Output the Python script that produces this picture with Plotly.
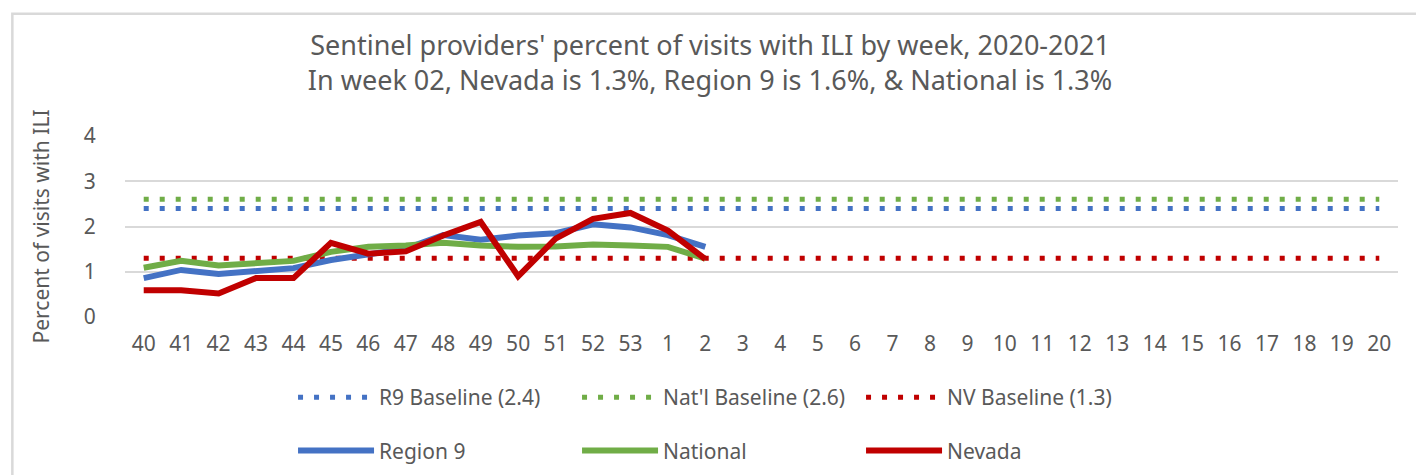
import plotly.graph_objects as go

weeks = [str(w) for w in list(range(40, 54)) + list(range(1, 21))]
data_weeks = weeks[:16]

r9_baseline = 2.4
natl_baseline = 2.6
nv_baseline = 1.3

region9 = [0.86, 1.04, 0.95, 1.02, 1.08, 1.26, 1.40, 1.51, 1.81, 1.71, 1.80, 1.85, 2.05, 1.98, 1.81, 1.55]
national = [1.09, 1.24, 1.14, 1.19, 1.24, 1.44, 1.55, 1.58, 1.64, 1.58, 1.55, 1.56, 1.60, 1.58, 1.55, 1.29]
nevada = [0.59, 0.59, 0.52, 0.86, 0.86, 1.64, 1.40, 1.45, 1.80, 2.10, 0.90, 1.73, 2.17, 2.30, 1.91, 1.28]

BLUE = "#4472C4"
GREEN = "#70AD47"
RED = "#C00000"
TXT = "#595959"
FONT = "Noto Sans"

fig = go.Figure()

dot = "5px,11px"
fig.add_trace(go.Scatter(x=weeks, y=[r9_baseline] * len(weeks), mode="lines",
                         name="R9 Baseline (2.4)", line=dict(color=BLUE, width=5, dash=dot),
                         legend="legend"))
fig.add_trace(go.Scatter(x=weeks, y=[natl_baseline] * len(weeks), mode="lines",
                         name="Nat'l Baseline (2.6)", line=dict(color=GREEN, width=5, dash=dot),
                         legend="legend"))
fig.add_trace(go.Scatter(x=weeks, y=[nv_baseline] * len(weeks), mode="lines",
                         name="NV Baseline (1.3)", line=dict(color=RED, width=5, dash=dot),
                         legend="legend"))
fig.add_trace(go.Scatter(x=data_weeks, y=region9, mode="lines", name="Region 9",
                         line=dict(color=BLUE, width=6), legend="legend2"))
fig.add_trace(go.Scatter(x=data_weeks, y=national, mode="lines", name="National",
                         line=dict(color=GREEN, width=6), legend="legend2"))
fig.add_trace(go.Scatter(x=data_weeks, y=nevada, mode="lines", name="Nevada",
                         line=dict(color=RED, width=6), legend="legend2"))

legend_common = dict(orientation="h", xanchor="left", yanchor="middle",
                     entrywidth=193, entrywidthmode="pixels", itemwidth=76,
                     font=dict(family=FONT, size=21, color=TXT),
                     bgcolor="rgba(0,0,0,0)", traceorder="normal")

fig.update_layout(
    width=1424, height=475,
    margin=dict(l=117, r=34, t=128, b=162),
    paper_bgcolor="white", plot_bgcolor="white",
    title=dict(text="Sentinel providers' percent of visits with ILI by week, 2020-2021<br>"
                    "In week 02, Nevada is 1.3%, Region 9 is 1.6%, & National is 1.3%",
               x=0.493, xanchor="center", y=0.902, yanchor="top",
               font=dict(family=FONT, size=27, color=TXT)),
    showlegend=True,
    legend=dict(x=0.132, y=-0.445, **legend_common),
    legend2=dict(x=0.132, y=-0.74, **legend_common),
    xaxis=dict(type="category", categoryorder="array", categoryarray=weeks,
               range=[-0.5, len(weeks) - 0.5], showgrid=False, showline=False,
               zeroline=False, ticks="", ticklabelstandoff=12,
               tickfont=dict(family=FONT, size=21, color=TXT)),
    yaxis=dict(range=[0, 4], dtick=1, showgrid=True, gridcolor="#D9D9D9", gridwidth=1.5,
               zeroline=False, showline=False, ticks="outside", ticklen=12,
               tickcolor="rgba(0,0,0,0)", ticklabelstandoff=12,
               tickfont=dict(family=FONT, size=21, color=TXT),
               title=dict(text="Percent of visits with ILI", standoff=28,
                          font=dict(family=FONT, size=21, color=TXT))),
    shapes=[dict(type="rect", xref="paper", yref="paper",
                 x0=-0.0885, x1=1.0245, y0=-0.88, y1=1.675,
                 line=dict(color="#D9D9D9", width=2.5), fillcolor="rgba(0,0,0,0)")],
)

fig.write_html("out.html")
